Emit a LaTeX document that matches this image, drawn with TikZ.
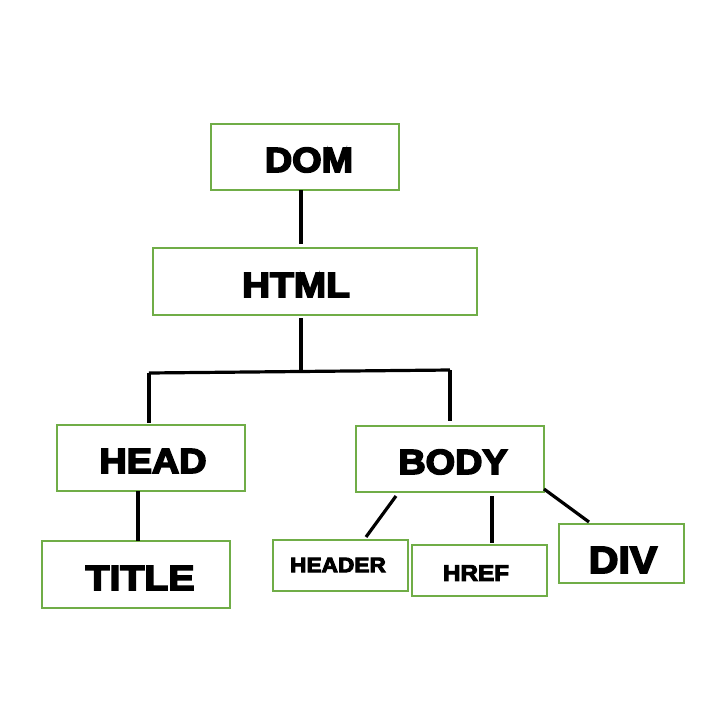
\documentclass[tikz,border=0pt]{standalone}
\usepackage{fontspec}
\setmainfont{Liberation Sans}[BoldFeatures={FakeBold=4.5}]
\definecolor{boxgreen}{HTML}{70AD47}
\newcommand{\widetxt}[1]{\scalebox{1.08}[1]{#1}}
\begin{document}
\begin{tikzpicture}[x=1pt,y=-1pt,
  box/.style={draw=boxgreen,line width=2pt,rectangle,inner sep=0pt,fill=white},
  lbl/.style={inner sep=0pt,anchor=center,font=\fontsize{35}{38}\selectfont\bfseries},
  conn/.style={draw=black,line width=3.2pt}]
\useasboundingbox (0,0) rectangle (720,707);
% boxes
\node[box,minimum width=188,minimum height=66] (dom) at (305,157) {};
\node[box,minimum width=324,minimum height=67] (html) at (315,281.5) {};
\node[box,minimum width=188,minimum height=66] (head) at (151,458) {};
\node[box,minimum width=188,minimum height=67] (title) at (136,574.5) {};
\node[box,minimum width=188,minimum height=66] (body) at (450,459) {};
\node[box,minimum width=135,minimum height=51] (header) at (340.5,565.5) {};
\node[box,minimum width=135,minimum height=51] (href) at (479.5,570.5) {};
\node[box,minimum width=125,minimum height=59] (div) at (621.5,553.5) {};
% labels
\node[lbl] (tdom) at (309,160) {\widetxt{DOM}};
\node[lbl] (thtml) at (296,285) {\scalebox{1.11}[1]{HTML}};
\node[lbl] (thead) at (153,461) {\widetxt{HEAD}};
\node[lbl] (ttitle) at (140,578) {\scalebox{1.12}[1]{TITLE}};
\node[lbl] (tbody) at (453,462) {\widetxt{BODY}};
\node[lbl,font=\fontsize{21}{23}\selectfont\bfseries] (theader) at (338,565) {\widetxt{HEADER}};
\node[lbl,font=\fontsize{22.5}{25}\selectfont\bfseries] (thref) at (476,573) {\widetxt{HREF}};
\node[lbl,font=\fontsize{38}{40}\selectfont\bfseries] (tdiv) at (623,560) {\widetxt{DIV}};
% connector points
\coordinate (d1) at (301,190);
\coordinate (d2) at (301,244);
\coordinate (j1) at (301,318);
\coordinate (j2) at (301,371.5);
\coordinate (hl) at (149,373);
\coordinate (hr) at (450,370);
\coordinate (hlb) at (149,423);
\coordinate (hrb) at (450,421);
\coordinate (t1) at (138,491);
\coordinate (t2) at (138,541);
\coordinate (b1) at (396,496);
\coordinate (b2) at (366,537);
\coordinate (b3) at (492,496);
\coordinate (b4) at (492,543);
\coordinate (b5) at (544,489);
\coordinate (b6) at (589,522);
% connectors
\draw[conn] (d1) -- (d2);
\draw[conn] (j1) -- (j2);
\draw[conn] (hl) -- (hr);
\draw[conn] (hl) -- (hlb);
\draw[conn] (hr) -- (hrb);
\draw[conn] (t1) -- (t2);
\draw[conn] (b1) -- (b2);
\draw[conn] (b3) -- (b4);
\draw[conn] (b5) -- (b6);
\end{tikzpicture}
\end{document}
